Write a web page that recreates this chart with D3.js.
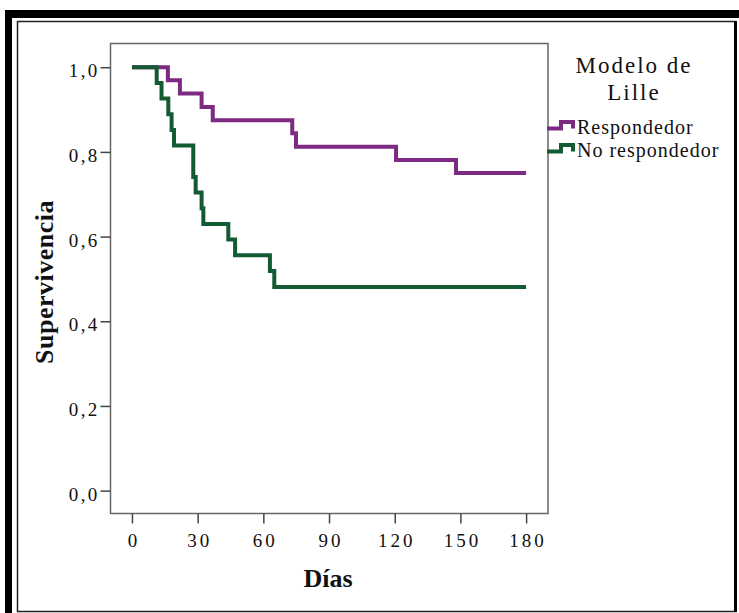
<!DOCTYPE html>
<html>
<head>
<meta charset="utf-8">
<script src="https://cdn.jsdelivr.net/npm/d3@7"></script>
<style>
  html, body { margin: 0; padding: 0; background: #fff; }
  svg { display: block; }
  text { font-family: "Liberation Serif", "Times New Roman", serif; fill: #111; }
</style>
</head>
<body>
<svg id="chart" width="739" height="613"></svg>
<script>
// ---- Data ----
const seriesNames = ["Respondedor", "No respondedor"];
const respDays = [0, 16.4, 21.9, 31.8, 36.9, 73.2, 74.9, 120.6, 148.0, 180];
const respSurv = [1.0, 0.969, 0.938, 0.906, 0.875, 0.844, 0.812, 0.781, 0.75, 0.75];
const noRespDays = [0, 11.3, 13.5, 16.6, 18.1, 19.2, 28.0, 29.1, 31.8, 32.6, 44.0, 47.1, 63.0, 65.0, 180];
const noRespSurv = [1.0, 0.963, 0.926, 0.889, 0.852, 0.815, 0.741, 0.704, 0.667, 0.630, 0.593, 0.556, 0.519, 0.481, 0.481];
const xTicks = [0, 30, 60, 90, 120, 150, 180];
const yTicks = [0.0, 0.2, 0.4, 0.6, 0.8, 1.0];
const yTickLabels = ["0,0", "0,2", "0,4", "0,6", "0,8", "1,0"];
const xTitle = "Días";
const yTitle = "Supervivencia";
const legendTitle = ["Modelo de", "Lille"];
const colors = ["#7d2a83", "#145a33"];

const svg = d3.select("#chart");

// ---- Outer frame ----
svg.append("rect").attr("x", 5).attr("y", 10).attr("width", 734).attr("height", 8).attr("fill", "#000");
svg.append("rect").attr("x", 5).attr("y", 10).attr("width", 7).attr("height", 603).attr("fill", "#000");
svg.append("rect").attr("x", 17.5).attr("y", 21.5).attr("width", 718).attr("height", 590)
  .attr("fill", "none").attr("stroke", "#222").attr("stroke-width", 1.5);
svg.append("line").attr("x1", 735.5).attr("x2", 735.5).attr("y1", 21).attr("y2", 612)
  .attr("stroke", "#000").attr("stroke-width", 3);

// ---- Scales ----
const plot = { left: 110.5, top: 43.5, right: 548, bottom: 513.5 };
const x = d3.scaleLinear().domain([-9.8, 190]).range([plot.left, plot.right]);
const y = d3.scaleLinear().domain([-0.054, 1.056]).range([plot.bottom, plot.top]);

// ---- Plot frame ----
svg.append("rect")
  .attr("x", plot.left).attr("y", plot.top)
  .attr("width", plot.right - plot.left).attr("height", plot.bottom - plot.top)
  .attr("fill", "none").attr("stroke", "#666").attr("stroke-width", 1.5);

// ---- Axes ----
const yAxis = d3.axisLeft(y).tickValues(yTicks).tickSize(10).tickPadding(1)
  .tickFormat((d, i) => yTickLabels[i]);
const gy = svg.append("g").attr("transform", `translate(${plot.left},0)`).call(yAxis);
gy.select(".domain").remove();
gy.selectAll(".tick line").attr("stroke", "#444").attr("stroke-width", 1.5);
gy.selectAll(".tick text")
  .attr("font-family", "Liberation Serif").attr("font-size", 19)
  .attr("letter-spacing", "2.3px").attr("dy", "0.5em").attr("fill", "#111");

const xAxis = d3.axisBottom(x).tickValues(xTicks).tickSize(10).tickPadding(10);
const gx = svg.append("g").attr("transform", `translate(0,${plot.bottom})`).call(xAxis);
gx.select(".domain").remove();
gx.selectAll(".tick line").attr("stroke", "#444").attr("stroke-width", 1.5);
gx.selectAll(".tick text")
  .attr("font-family", "Liberation Serif").attr("font-size", 19)
  .attr("letter-spacing", "3px").attr("dx", "1.5px").attr("fill", "#111");

// ---- Titles ----
svg.append("text").attr("x", 328).attr("y", 587)
  .attr("text-anchor", "middle").attr("font-size", 26).attr("font-weight", "bold")
  .text(xTitle);
svg.append("text")
  .attr("transform", "translate(53,282) rotate(-90)")
  .attr("text-anchor", "middle").attr("font-size", 26).attr("font-weight", "bold")
  .attr("letter-spacing", "0.5px")
  .text(yTitle);

// ---- Curves ----
const line = d3.line().x(d => x(d[0])).y(d => y(d[1])).curve(d3.curveStepAfter);
const series = [
  respDays.map((d, i) => [d, respSurv[i]]),
  noRespDays.map((d, i) => [d, noRespSurv[i]])
];
series.forEach((s, i) => {
  svg.append("path").datum(s)
    .attr("d", line)
    .attr("fill", "none")
    .attr("stroke", colors[i])
    .attr("stroke-width", 4)
    .attr("stroke-linejoin", "miter")
    .attr("stroke-linecap", "butt");
});

// ---- Legend ----
legendTitle.forEach((t, i) => {
  svg.append("text").attr("x", 634).attr("y", 73 + i * 27)
    .attr("text-anchor", "middle").attr("font-size", 23).attr("letter-spacing", "2px")
    .text(t);
});
seriesNames.forEach((name, i) => {
  const cy = 127 + i * 23;
  const sym = `M547,${cy + 1.5} H561 V${cy - 5} H573 V${cy + 1.5}`;
  svg.append("path").attr("d", sym).attr("fill", "none")
    .attr("stroke", colors[i]).attr("stroke-width", 4).attr("stroke-linejoin", "miter");
  svg.append("text").attr("x", 577).attr("y", cy + 6.5)
    .attr("font-size", 20).attr("letter-spacing", "1px")
    .text(name);
});
</script>
</body>
</html>
